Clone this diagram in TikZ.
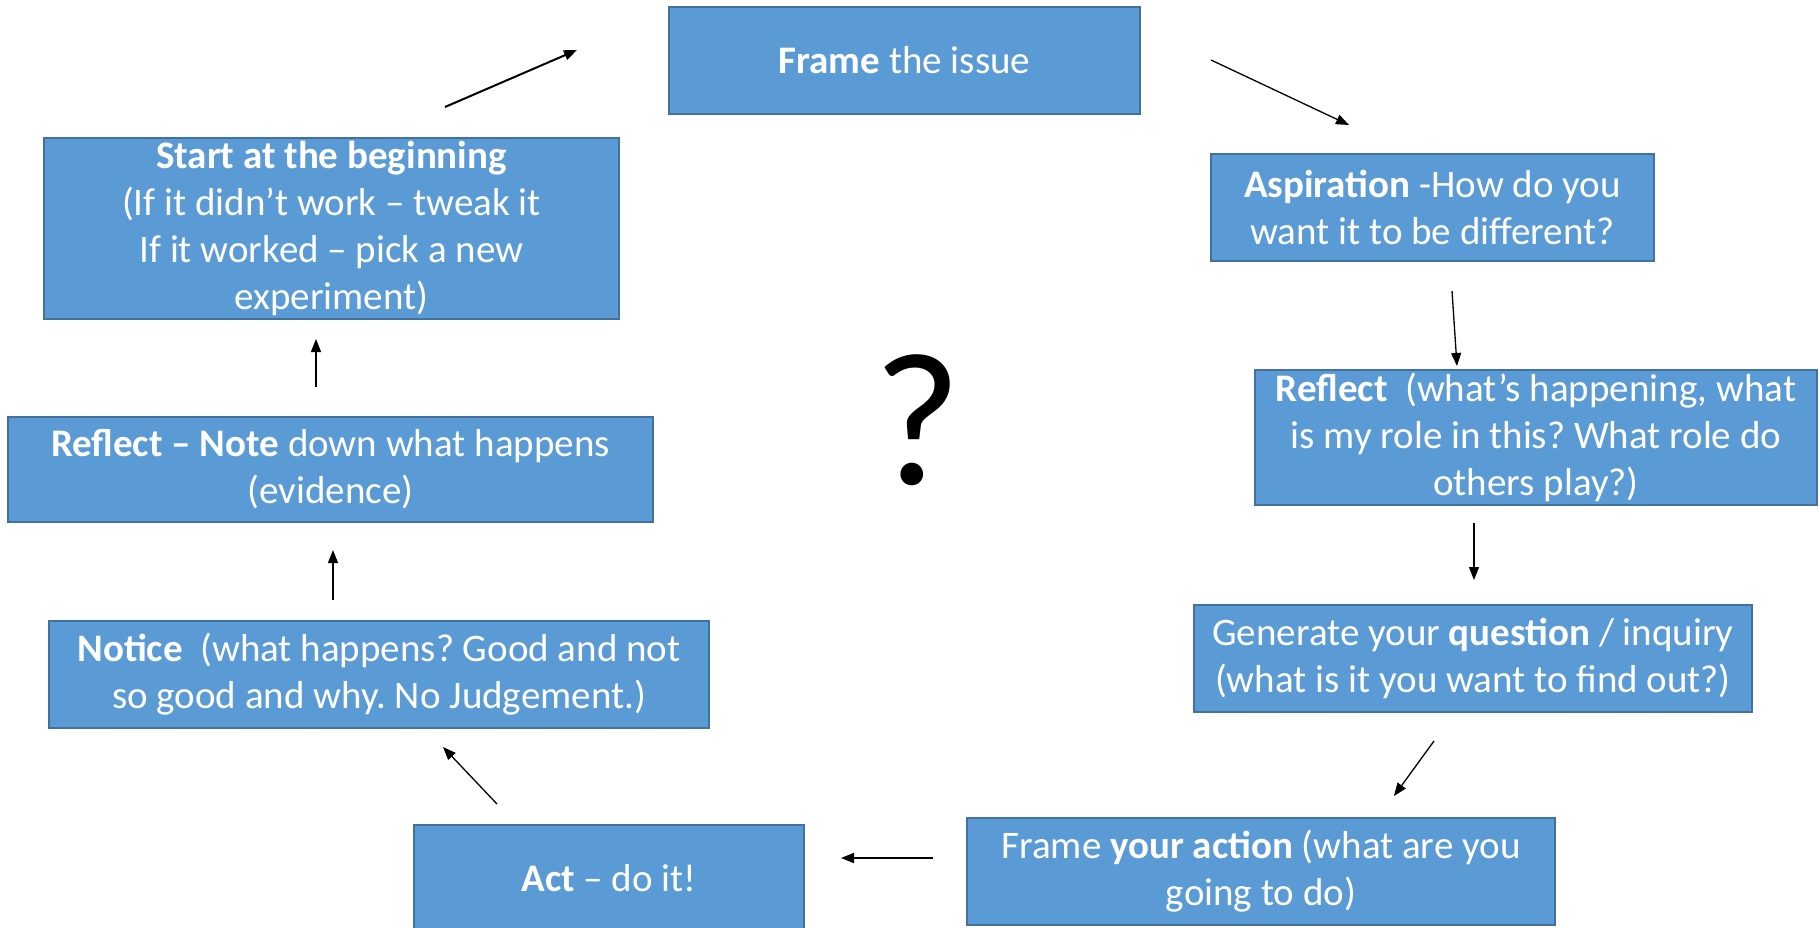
\documentclass[tikz,border=0pt]{standalone}
\usepackage{fontspec}
\setmainfont{Carlito}
\frenchspacing
\usetikzlibrary{arrows.meta}
\definecolor{boxfill}{HTML}{5B9BD5}
\definecolor{boxborder}{HTML}{41719C}
\begin{document}
\begin{tikzpicture}[x=1pt,y=-1pt,
  box/.style={draw=boxborder, fill=boxfill, line width=2pt, text=white, align=center,
    font=\frenchspacing\fontsize{39}{47}\selectfont, inner sep=0pt},
  arr/.style={-{Triangle[length=13pt,width=10pt]}, line width=1.3pt, black}]
\useasboundingbox (0,0) rectangle (1820,928);
\node[box, minimum width=471pt, minimum height=107pt] (frame) at (904.5,60.5) {\textbf{Frame} the issue};
\node[box, minimum width=575pt, minimum height=181pt] (start) at (331.5,228.5) {\textbf{Start at the beginning}\\(If it didn’t work -- tweak it\\If it worked -- pick a new\\experiment)};
\node[box, minimum width=443pt, minimum height=107pt] (asp) at (1432.5,207.5) {\textbf{Aspiration} -How do you\\want it to be different?};
\node[box, minimum width=562pt, minimum height=135pt] (refr) at (1536,437.5) {\textbf{Reflect}~~(what’s happening, what\\is my role in this? What role do\\others play?)};
\node[box, minimum width=645pt, minimum height=105pt] (refl) at (330.5,469.5) {\textbf{Reflect -- Note} down what happens\\(evidence)};
\node[box, minimum width=660pt, minimum height=107pt] (notice) at (379,674.5) {\textbf{Notice}~~(what happens? Good and not\\so good and why. No Judgement.)};
\node[box, minimum width=558pt, minimum height=107pt] (gen) at (1473,658.5) {Generate your \textbf{question} / inquiry\\(what is it you want to find out?)};
\node[box, minimum width=390pt, minimum height=106pt] (act) at (609,878) {\textbf{Act} -- do it!};
\node[box, minimum width=588pt, minimum height=107pt] (fact) at (1261,871.5) {Frame \textbf{your action} (what are you\\going to do)};
\node[font=\fontsize{190}{200}\selectfont] (q) at (918,420) {?};

\coordinate (a1s) at (445,107); \coordinate (a1e) at (577,50);
\coordinate (a2s) at (1211,60); \coordinate (a2e) at (1349,125);
\coordinate (a3s) at (1452,291); \coordinate (a3e) at (1457,366);
\coordinate (a4s) at (1474,523); \coordinate (a4e) at (1474,580);
\coordinate (a5s) at (1434,741); \coordinate (a5e) at (1394,796);
\coordinate (a6s) at (933,858); \coordinate (a6e) at (841,858);
\coordinate (a7s) at (497,804); \coordinate (a7e) at (443,747);
\coordinate (a8s) at (333,600); \coordinate (a8e) at (333,550);
\coordinate (a9s) at (316,387); \coordinate (a9e) at (316,339);

\draw[arr, line width=2pt] (a1s) -- (a1e);
\draw[arr] (a2s) -- (a2e);
\draw[arr] (a3s) -- (a3e);
\draw[arr] (a4s) -- (a4e);
\draw[arr] (a5s) -- (a5e);
\draw[arr, line width=1.8pt] (a6s) -- (a6e);
\draw[arr] (a7s) -- (a7e);
\draw[arr] (a8s) -- (a8e);
\draw[arr] (a9s) -- (a9e);
\end{tikzpicture}
\end{document}
